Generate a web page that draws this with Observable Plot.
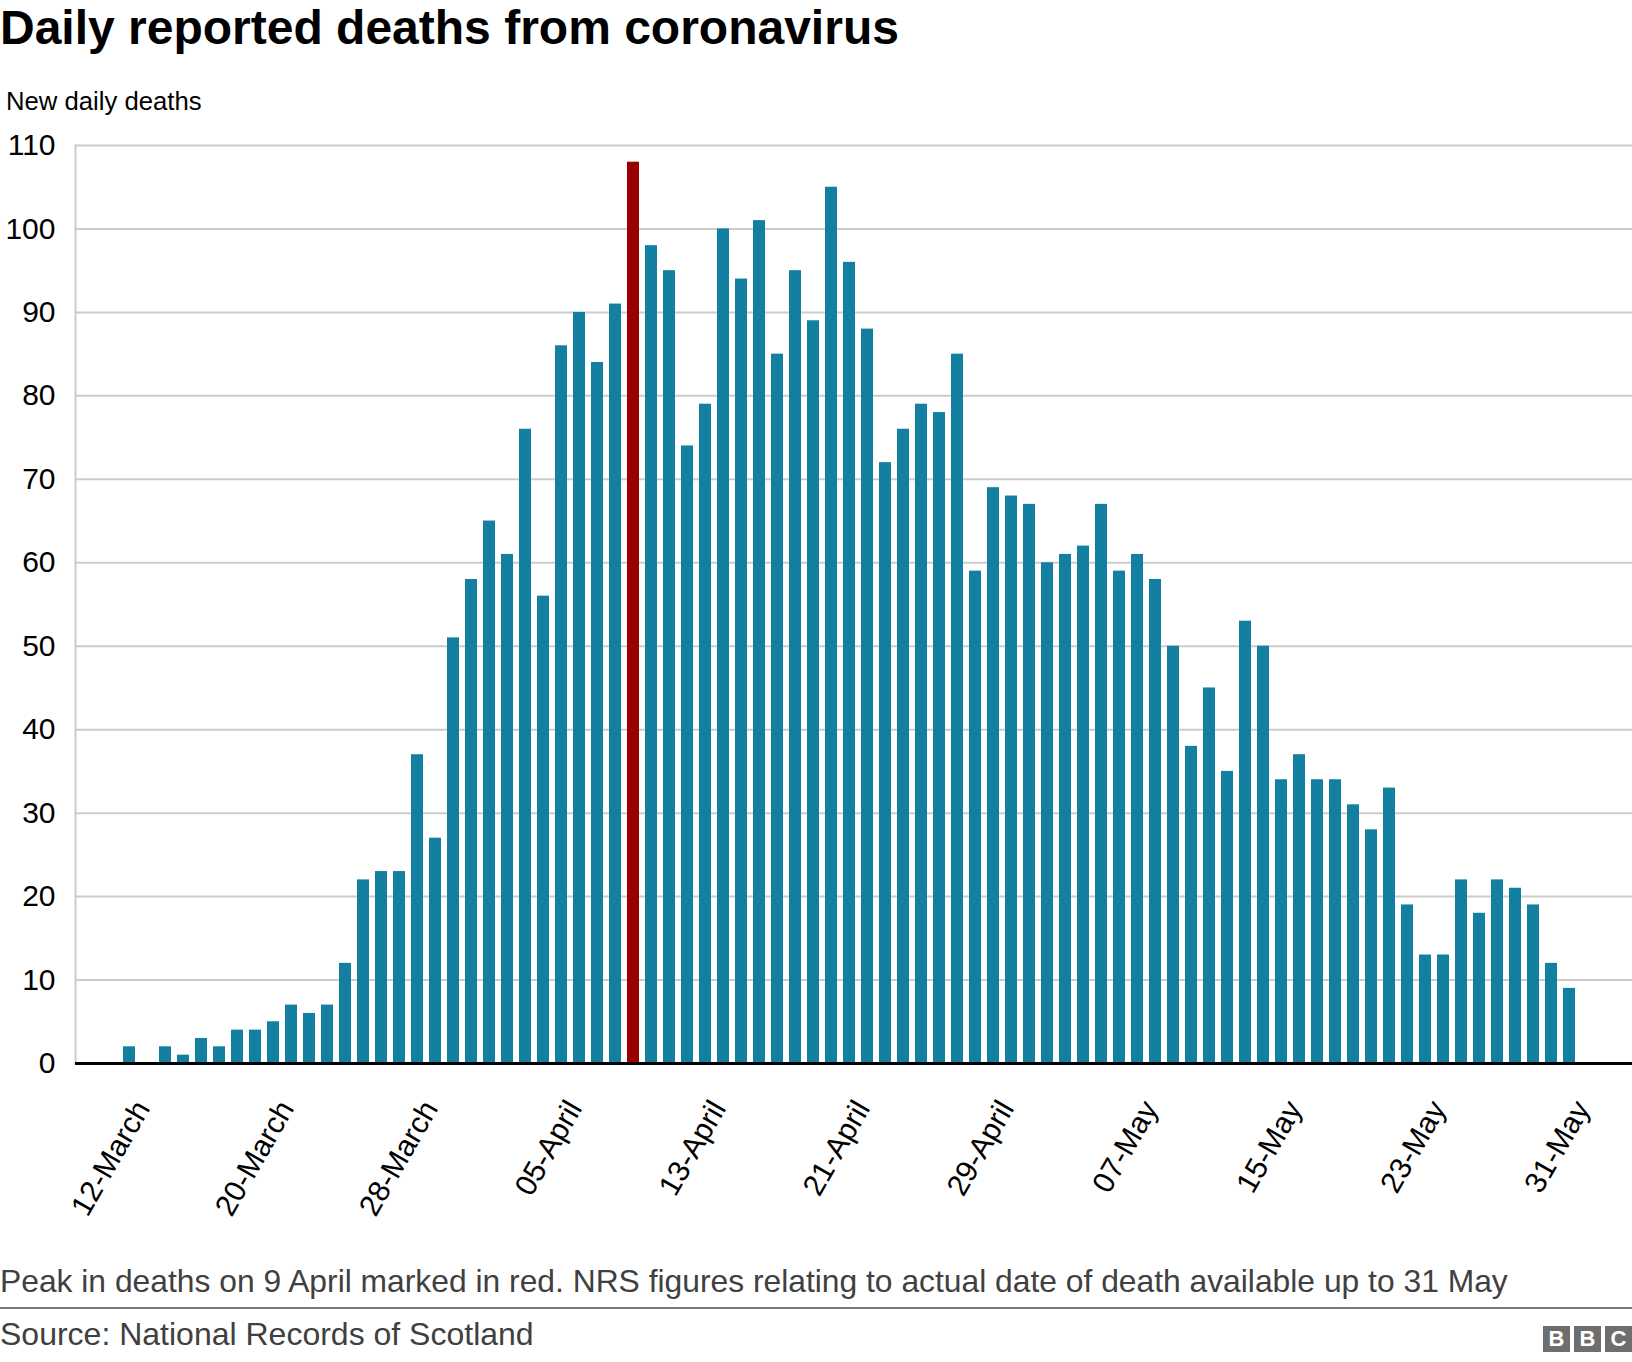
<!DOCTYPE html>
<html>
<head>
<meta charset="utf-8">
<script src="https://cdn.jsdelivr.net/npm/d3@7"></script>
<script src="https://cdn.jsdelivr.net/npm/@observablehq/plot@0.6"></script>
<style>
  body { margin: 0; background: #fff; }
  #page { position: relative; width: 1632px; height: 1362px; overflow: hidden;
          font-family: "Liberation Sans", Arial, Helvetica, sans-serif; background: #fff; }
  .t { position: absolute; left: 0; white-space: nowrap; line-height: 1; }
  #title { top: 4px; font-size: 48px; font-weight: bold; color: #000; }
  #sub { left: 6px; top: 89px; font-size: 25.7px; color: #000; }
  #chart { position: absolute; left: 0; top: 120px; }
  #note { top: 1266px; font-size: 31.8px; color: #404040; }
  #sep { position: absolute; left: 0; top: 1307px; width: 1632px; height: 2px; background: #7a7a7a; }
  #source { top: 1318px; font-size: 32px; color: #404040; }
  #bbc { position: absolute; left: 1543px; top: 1326px; display: flex; gap: 4px; }
  #bbc span { width: 27px; height: 26px; background: #6e6e6e; color: #fff; font-weight: bold;
              font-size: 22px; display: flex; align-items: center; justify-content: center; }
</style>
</head>
<body>
<div id="page">
  <div class="t" id="title">Daily reported deaths from coronavirus</div>
  <div class="t" id="sub">New daily deaths</div>
  <div id="chart"></div>
  <div class="t" id="note">Peak in deaths on 9 April marked in red. NRS figures relating to actual date of death available up to 31 May</div>
  <div id="sep"></div>
  <div class="t" id="source">Source: National Records of Scotland</div>
  <div id="bbc"><span>B</span><span>B</span><span>C</span></div>
</div>
<script>
// ---- data ----
const startDate = "2020-03-12";
const endDate = "2020-05-31";
const peakDate = "2020-04-09";
const marchDeaths = [2, 0, 2, 1, 3, 2, 4, 4, 5, 7, 6, 7, 12, 22, 23, 23, 37, 27, 51, 58];
const aprilDeaths = [65, 61, 76, 56, 86, 90, 84, 91, 108, 98, 95, 74, 79, 100, 94, 101, 85, 95, 89, 105,
                     96, 88, 72, 76, 79, 78, 85, 59, 69, 68];
const mayDeaths = [67, 60, 61, 62, 67, 59, 61, 58, 50, 38, 45, 35, 53, 50, 34, 37, 34, 34, 31, 28,
                   33, 19, 13, 13, 22, 18, 22, 21, 19, 12, 9];
const tickLabels = ["12-March", "20-March", "28-March", "05-April", "13-April", "21-April",
                    "29-April", "07-May", "15-May", "23-May", "31-May"];
const tickDates = ["2020-03-12", "2020-03-20", "2020-03-28", "2020-04-05", "2020-04-13", "2020-04-21",
                   "2020-04-29", "2020-05-07", "2020-05-15", "2020-05-23", "2020-05-31"];
const yTicks = [0, 10, 20, 30, 40, 50, 60, 70, 80, 90, 100, 110];

// ---- build ----
const parse = d3.utcParse("%Y-%m-%d");
const dates = d3.utcDay.range(parse(startDate), d3.utcDay.offset(parse(endDate), 1));
const values = [...marchDeaths, ...aprilDeaths, ...mayDeaths];
const data = dates.map((date, i) => ({date, deaths: values[i]}));
const peak = +parse(peakDate);
const xTicks = tickDates.map(parse);
const labelOf = new Map(xTicks.map((d, i) => [+d, tickLabels[i]]));

const FONT = '"Liberation Sans", Arial, Helvetica, sans-serif';

const chart = Plot.plot({
  width: 1632,
  height: 1120,
  marginLeft: 75,
  marginRight: 0,
  marginTop: 25,
  marginBottom: 177,
  style: {fontFamily: FONT, fontSize: "30px", color: "#000", background: "transparent", overflow: "visible"},
  x: {type: "band", domain: dates, range: [120, 1578], paddingInner: 1 / 3, paddingOuter: 1 / 6},
  y: {domain: [0, 110]},
  color: {domain: ["other", "peak"], range: ["#1380a1", "#990000"]},
  marks: [
    Plot.gridY(yTicks, {stroke: "#cccccc", strokeOpacity: 1, strokeWidth: 2}),
    Plot.frame({anchor: "left", stroke: "#cccccc", strokeWidth: 2}),
    Plot.axisY(yTicks, {tickSize: 0, tickPadding: 20, fontSize: 30, label: null}),
    Plot.barY(data, {x: "date", y: "deaths", fill: d => (+d.date === peak ? "peak" : "other")}),
    Plot.ruleY([0], {stroke: "#000", strokeWidth: 3}),
    Plot.axisX(xTicks, {tickSize: 0, tickPadding: 40, tickRotate: -60, fontSize: 30, dx: 13,
                        tickFormat: d => labelOf.get(+d), label: null})
  ]
});
document.getElementById("chart").appendChild(chart);
</script>
</body>
</html>
